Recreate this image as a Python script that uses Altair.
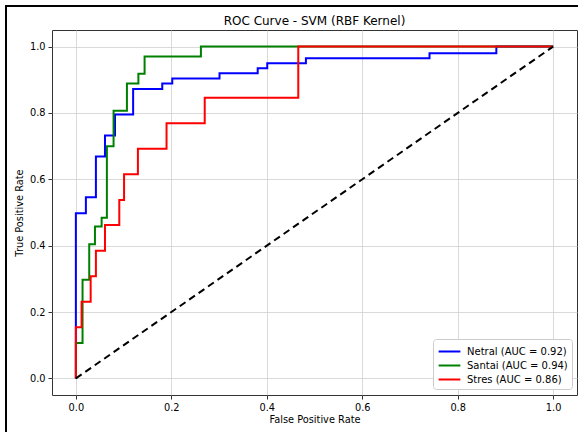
import altair as alt
import pandas as pd

# ---- data ----
classes = ["Netral", "Santai", "Stres"]
auc_values = [0.92, 0.94, 0.86]
line_colors = ["#0000ff", "#008000", "#ff0000"]

netral_fpr = [0, 0, 0.021, 0.042, 0.061, 0.082, 0.12, 0.181, 0.202, 0.301, 0.381, 0.401, 0.482, 0.741, 0.881, 1.0]
netral_tpr = [0, 0.498, 0.546, 0.669, 0.732, 0.795, 0.872, 0.889, 0.904, 0.920, 0.935, 0.950, 0.965, 0.980, 1.0, 1.0]

santai_fpr = [0, 0, 0.014, 0.028, 0.040, 0.054, 0.065, 0.079, 0.107, 0.131, 0.144, 0.262, 1.0]
santai_tpr = [0, 0.107, 0.297, 0.404, 0.458, 0.484, 0.700, 0.807, 0.889, 0.918, 0.970, 1.0, 1.0]

stres_fpr = [0, 0, 0.012, 0.031, 0.042, 0.061, 0.091, 0.101, 0.130, 0.190, 0.270, 0.466, 1.0]
stres_tpr = [0, 0.154, 0.231, 0.308, 0.385, 0.462, 0.538, 0.615, 0.692, 0.769, 0.846, 1.0, 1.0]

diag_fpr = [0, 1]
diag_tpr = [0, 1]

tick_values = [0.0, 0.2, 0.4, 0.6, 0.8, 1.0]
title_text = "ROC Curve - SVM (RBF Kernel)"

# ---- build tables ----
series = [(netral_fpr, netral_tpr), (santai_fpr, santai_tpr), (stres_fpr, stres_tpr)]
labels = [f"{c} (AUC = {a:.2f})" for c, a in zip(classes, auc_values)]
rows = []
for lab, (fpr, tpr) in zip(labels, series):
    for i, (x, y) in enumerate(zip(fpr, tpr)):
        rows.append({"series": lab, "fpr": x, "tpr": y, "i": i})
df = pd.DataFrame(rows)
diag_df = pd.DataFrame({"fpr": diag_fpr, "tpr": diag_tpr})

FONT = "DejaVu Sans"
x_scale = alt.Scale(domain=[-0.05, 1.05], nice=False, zero=False)
y_scale = alt.Scale(domain=[-0.05, 1.05], nice=False, zero=False)
x_axis = alt.Axis(title="False Positive Rate", values=tick_values, format=".1f", titlePadding=3)
y_axis = alt.Axis(title="True Positive Rate", values=tick_values, format=".1f", titlePadding=5)

roc = alt.Chart(df).mark_line(interpolate="step-after", strokeWidth=2).encode(
    x=alt.X("fpr:Q", scale=x_scale, axis=x_axis),
    y=alt.Y("tpr:Q", scale=y_scale, axis=y_axis),
    color=alt.Color(
        "series:N",
        scale=alt.Scale(domain=labels, range=line_colors),
        sort=labels,
        legend=alt.Legend(
            title=None,
            orient="none",
            legendX=381,
            legendY=309,
            symbolType="M-1.45,0H1.45",
            symbolSize=225,
            symbolOffset=4,
            symbolStrokeWidth=2,
            symbolFillColor="transparent",
            labelFont=FONT,
            labelFontSize=10,
            labelColor="black",
            labelOffset=9,
            padding=4,
            rowPadding=0,
            fillColor="white",
            strokeColor="#cccccc",
            cornerRadius=3,
        ),
    ),
    order=alt.Order("i:Q"),
)

diag = alt.Chart(diag_df).mark_line(color="black", strokeDash=[7, 4.5], strokeWidth=2).encode(
    x=alt.X("fpr:Q", scale=x_scale, axis=x_axis),
    y=alt.Y("tpr:Q", scale=y_scale, axis=y_axis),
)

frame = alt.Chart(pd.DataFrame({"k": [0]})).mark_rect(
    filled=False, stroke="black", strokeWidth=2
).encode(
    x=alt.value(-46), x2=alt.value(900), y=alt.value(-24), y2=alt.value(900)
)

chart = alt.layer(roc, diag, frame).properties(
    width=525,
    height=365,
    title=alt.TitleParams(title_text, font=FONT, fontSize=12, fontWeight="normal",
                          color="black", anchor="middle", offset=0, dy=23),
    autosize=alt.AutoSizeParams(type="none"),
    padding={"left": 52, "top": 30, "right": 1, "bottom": 37},
).configure_view(
    stroke="#333333", strokeWidth=1
).configure_axis(
    labelFont=FONT, titleFont=FONT, labelFontSize=9.8, titleFontSize=9.8,
    titleFontWeight="normal", labelColor="black", titleColor="black",
    tickColor="#333333", tickSize=4, labelPadding=3, domain=False,
    grid=True, gridColor="#d0d0d0", gridWidth=0.8,
)

chart.save("out.html", embed_options={"renderer": "svg", "actions": False})
